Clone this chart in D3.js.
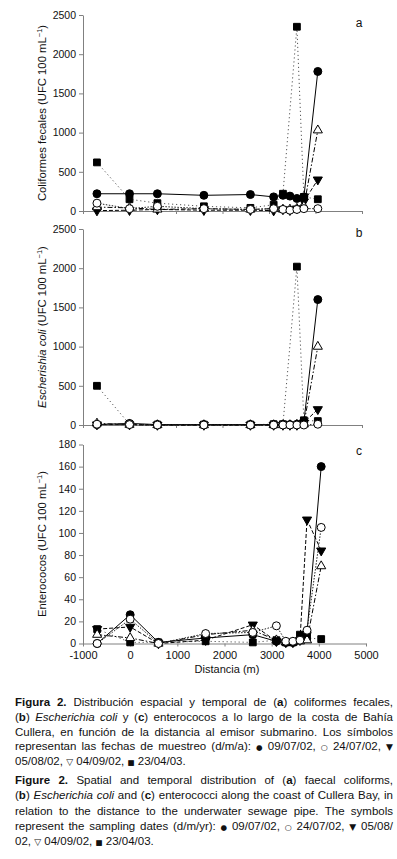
<!DOCTYPE html>
<html><head><meta charset="utf-8">
<script src="https://cdn.jsdelivr.net/npm/d3@7"></script>
<style>
body{margin:0;background:#fff;}
svg{display:block;}
</style></head>
<body>
<script>
// ---------- DATA ----------
const distances = [-700, 0, 600, 1600, 2600, 3100, 3300, 3450, 3600, 3750, 4050];
const xTicks = [-1000, 0, 1000, 2000, 3000, 4000, 5000];
const yTicksAB = [0, 500, 1000, 1500, 2000, 2500];
const yTicksC = [0, 20, 40, 60, 80, 100, 120, 140, 160, 180];
const dates = ["09/07/02", "24/07/02", "05/08/02", "04/09/02", "23/04/03"];

// (a) coliformes fecales
const fecal_0907 = [220, 220, 220, 200, 210, 180, 200, 190, 160, 180, 1780];
const fecal_2407 = [100, 30, 60, 30, 20, 30, 20, 10, 20, 30, 30];
const fecal_0508 = [5, 10, 20, 10, 10, 5, 20, 10, 30, 120, 400];
const fecal_0409 = [50, 40, 20, 30, 20, 30, 20, 20, 30, 60, 1030];
const fecal_2304 = [620, 150, 100, 60, 40, 80, 220, null, 2350, 180, 150];
// (b) Escherichia coli
const ecoli_0907 = [5, 20, 5, 5, 5, 5, 5, 5, 10, 40, 1600];
const ecoli_2407 = [10, 5, 0, 0, 0, 0, 0, 0, 0, 0, 10];
const ecoli_0508 = [5, 5, 0, 0, 0, 0, 0, 0, 0, 30, 200];
const ecoli_0409 = [20, 5, 0, 0, 0, 0, 0, 0, 5, 10, 1000];
const ecoli_2304 = [500, 10, 5, 5, 5, 10, 10, null, 2020, 60, 50];
// (c) enterococos
const entero_0907 = [0, 26, 1, 5, 8, 2, 1, 1, 3, 10, 160];
const entero_2407 = [0, 22, 0, 9, 10, 16, 2, 2, 3, 12, 105];
const entero_0508 = [13, 15, 0, 3, 17, 2, 1, 1, 3, 112, 84];
const entero_0409 = [8, 5, 0, 8, 12, 3, 1, 1, 2, 3, 70];
const entero_2304 = [13, 1, 1, 2, 1, 3, 1, 1, 8, 5, 4];

// ---------- STYLE ----------
const W = 397, H = 859;
const FONT = '"Liberation Sans", Arial, Helvetica, sans-serif';
const AXC = "#808080";
const styles = [
  {sym: "circle", fill: "#000", dash: null, color: "#000"},
  {sym: "circle", fill: "#fff", dash: "1.5,1.5", color: "#222"},
  {sym: "tdown", fill: "#000", dash: "4,2", color: "#000"},
  {sym: "tup", fill: "#fff", dash: "5,2,1.5,2", color: "#000"},
  {sym: "square", fill: "#000", dash: "1.2,2.8", color: "#555"}
];
const drawOrder = [4, 2, 3, 0, 1];

const svg = d3.select("body").append("svg").attr("width", W).attr("height", H)
  .style("font-family", FONT);

const panels = [
  {letter: "a", yMax: 2500, ticks: yTicksAB, top: 15, bottom: 211, xr: [83, 362],
   series: [fecal_0907, fecal_2407, fecal_0508, fecal_0409, fecal_2304],
   title: [["Coliformes fecales (UFC 100 mL", ""], ["−1", "sup"], [")", ""]], showX: false},
  {letter: "b", yMax: 2500, ticks: yTicksAB, top: 229, bottom: 425, xr: [83, 362],
   series: [ecoli_0907, ecoli_2407, ecoli_0508, ecoli_0409, ecoli_2304],
   title: [["Escherishia coli", "i"], [" (UFC 100 mL", ""], ["−1", "sup"], [")", ""]], showX: false},
  {letter: "c", yMax: 180, ticks: yTicksC, top: 444.5, bottom: 643.5, xr: [83, 366],
   series: [entero_0907, entero_2407, entero_0508, entero_0409, entero_2304],
   title: [["Enterococos (UFC 100 mL", ""], ["−1", "sup"], [")", ""]], showX: true}
];

function symPath(type) {
  if (type === "circle") return d3.symbol(d3.symbolCircle, 50)();
  if (type === "square") return d3.symbol(d3.symbolSquare, 46)();
  return d3.symbol(d3.symbolTriangle, 36)();
}

panels.forEach(p => {
  const x = d3.scaleLinear().domain([-1000, 5000]).range(p.xr);
  const y = d3.scaleLinear().domain([0, p.yMax]).range([p.bottom, p.top]);
  const g = svg.append("g");

  // y axis
  const ya = g.append("g").attr("transform", `translate(${p.xr[0]},0)`)
    .call(d3.axisLeft(y).tickValues(p.ticks).tickSize(4).tickSizeOuter(0).tickPadding(3).tickFormat(d => String(d)));
  ya.select(".domain").attr("stroke", AXC);
  ya.selectAll(".tick line").attr("stroke", AXC);
  ya.selectAll("text").attr("font-size", 10.5).attr("fill", "#111").style("font-family", FONT);

  // x axis
  const xa = g.append("g").attr("transform", `translate(0,${p.bottom})`)
    .call(d3.axisBottom(x).tickValues(xTicks).tickSize(3).tickSizeOuter(0).tickPadding(5)
      .tickFormat(d => p.showX ? String(d) : ""));
  xa.select(".domain").attr("stroke", AXC);
  xa.selectAll(".tick line").attr("stroke", AXC);
  xa.selectAll("text").attr("font-size", 11).attr("fill", "#111").style("font-family", FONT);

  // y title
  const ty = g.append("text")
    .attr("transform", `translate(46,${(p.top + p.bottom) / 2}) rotate(-90)`)
    .attr("text-anchor", "middle").attr("font-size", 11.3).attr("fill", "#111");
  p.title.forEach(([t, c]) => {
    const ts = ty.append("tspan").text(t);
    if (c === "i") ts.attr("font-style", "italic");
    if (c === "sup") ts.attr("font-size", 7.5).attr("dy", -4.5);
    if (c === "" && t === ")") ts.attr("dy", 4.5);
  });

  // panel letter
  g.append("text").attr("x", 359).attr("y", p.top + (p.letter === "a" ? 12 : p.letter === "b" ? 8 : 10))
    .attr("text-anchor", "middle").attr("font-size", 12).attr("fill", "#111").text(p.letter);

  // lines
  const line = d3.line().x(d => x(d[0])).y(d => y(d[1]));
  drawOrder.forEach(si => {
    const pts = distances.map((d, i) => [d, p.series[si][i]]).filter(d => d[1] != null);
    const st = styles[si];
    g.append("path").attr("d", line(pts)).attr("fill", "none")
      .attr("stroke", st.color).attr("stroke-width", 1)
      .attr("stroke-dasharray", st.dash);
  });
  // markers
  drawOrder.forEach(si => {
    const pts = distances.map((d, i) => [d, p.series[si][i]]).filter(d => d[1] != null);
    const st = styles[si];
    g.selectAll(null).data(pts).enter().append("path")
      .attr("d", symPath(st.sym))
      .attr("transform", d => `translate(${x(d[0])},${y(d[1])})` + (st.sym === "tdown" ? " rotate(180)" : ""))
      .attr("fill", st.fill).attr("stroke", "#000").attr("stroke-width", 1);
  });
});

// x title
svg.append("text").attr("x", 227).attr("y", 673).attr("text-anchor", "middle")
  .attr("font-size", 11).attr("fill", "#111").text("Distancia (m)");

// ---------- CAPTION ----------
const capES = [
  "<b>Figura</b> <b>2.</b> Distribución espacial y temporal de (<b>a</b>) coliformes fecales,",
  "(<b>b</b>) <i>Escherichia</i> <i>coli</i> y (<b>c</b>) enterococos a lo largo de la costa de Bahía",
  "Cullera, en función de la distancia al emisor submarino. Los símbolos",
  "representan las fechas de muestreo (d/m/a): <s>●</s> 09/07/02, <s>○</s> 24/07/02, <s>▼</s>",
  "05/08/02, <s>▽</s> 04/09/02, <s>■</s> 23/04/03."
];
const capEN = [
  "<b>Figure</b> <b>2.</b> Spatial and temporal distribution of (<b>a</b>) faecal coliforms,",
  "(<b>b</b>) <i>Escherichia</i> <i>coli</i> and (<b>c</b>) enterococci along the coast of Cullera Bay, in",
  "relation to the distance to the underwater sewage pipe. The symbols",
  "represent the sampling dates (d/m/yr): <s>●</s> 09/07/02, <s>○</s> 24/07/02, <s>▼</s> 05/08/",
  "02, <s>▽</s> 04/09/02, <s>■</s> 23/04/03."
];
const CAPX = 15, CAPW = 378, CAPFS = 11.5;
const symSize = {"●": 7.5, "○": 8, "▼": 9, "▽": 9, "■": 7.5};

function drawLine(str, yBase, justify) {
  const words = str.split(" ");
  const nodes = words.map(w => {
    const t = svg.append("text").attr("y", yBase).attr("font-size", CAPFS).attr("fill", "#111");
    const re = /<(b|i|s)>(.*?)<\/\1>|([^<]+)/g;
    let m;
    while ((m = re.exec(w)) !== null) {
      if (m[3] !== undefined) { t.append("tspan").text(m[3]); continue; }
      const ts = t.append("tspan").text(m[2]);
      if (m[1] === "b") ts.attr("font-weight", "bold");
      if (m[1] === "i") ts.attr("font-style", "italic");
      if (m[1] === "s") ts.attr("font-size", symSize[m[2]] || 8).style("font-family", '"DejaVu Sans", sans-serif');
    }
    return t;
  });
  const widths = nodes.map(n => n.node().getComputedTextLength());
  const total = d3.sum(widths);
  const normalGap = CAPFS * 0.278;
  const gap = justify && words.length > 1 ? (CAPW - total) / (words.length - 1) : normalGap;
  let cx = CAPX;
  nodes.forEach((n, i) => { n.attr("x", cx); cx += widths[i] + gap; });
}
capES.forEach((l, i) => drawLine(l, 706 + i * 14.8, i < capES.length - 1));
capEN.forEach((l, i) => drawLine(l, 784 + i * 15.3, i < capEN.length - 1));
</script>
</body></html>
